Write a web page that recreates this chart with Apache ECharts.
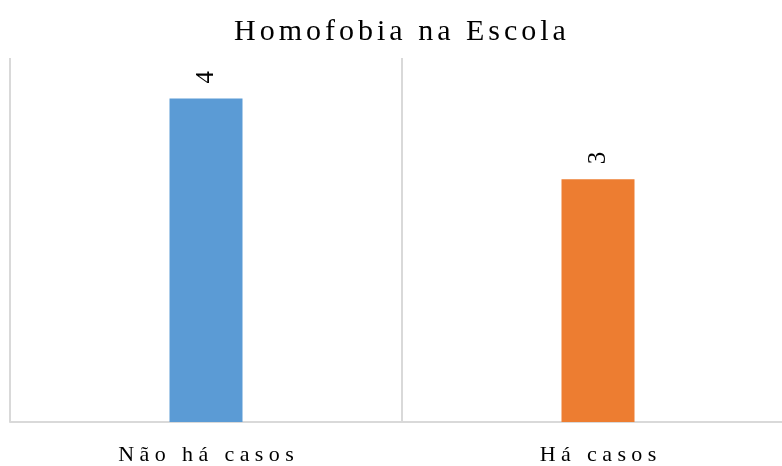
<!DOCTYPE html>
<html>
<head>
<meta charset="utf-8">
<style>
	html, body { margin: 0; padding: 0; background: #fff; }
	#chart { width: 782px; height: 466px; }
</style>
<script src="https://cdn.jsdelivr.net/npm/echarts@6/dist/echarts.min.js"></script>
</head>
<body>
<div id="chart"></div>
<script>
const title = "Homofobia na Escola";
const categories = ["Não há casos", "Há casos"];
const values = [4, 3];
const colors = ["#5B9BD5", "#ED7D31"];

// wide letter spacing like the original: every char in its own rich segment
const spaced = (text, style) =>
	[...text].map((ch, i, arr) => `{${i == arr.length - 1 ? style + "e" : style}|${ch}}`).join("");

const serif = "Liberation Serif";

const chart = echarts.init(document.getElementById("chart"), null, { renderer: "canvas" });

chart.setOption({
	animation : false,
	title     : {
		text      : spaced(title, "t"),
		left      : 229,
		top       : 12,
		textStyle : {
			fontFamily : serif,
			fontSize   : 30,
			fontWeight : "normal",
			color      : "#000",
			rich       : {
				t  : { fontFamily: serif, fontSize: 30, fontWeight: "normal", color: "#000", padding: [0, 4, 0, 0] },
				te : { fontFamily: serif, fontSize: 30, fontWeight: "normal", color: "#000" },
			},
		},
	},
	grid: {
		left            : 10,
		top             : 58,
		width           : 784,
		height          : 364,
		outerBoundsMode : "none",
	},
	xAxis: {
		type        : "category",
		data        : categories,
		boundaryGap : true,
		axisTick    : { show: false },
		axisLine    : {
			lineStyle: { color: "#d9d9d9", width: 2 },
		},
		splitLine: {
			show      : true,
			interval  : 0,
			lineStyle : { color: "#d9d9d9", width: 2 },
		},
		axisLabel: {
			interval   : 0,
			hideOverlap: false,
			margin     : 22,
			fontFamily : serif,
			fontSize   : 22,
			color      : "#000",
			formatter  : (v) => spaced(v, "c"),
			rich       : {
				c  : { fontFamily: serif, fontSize: 22, color: "#000", padding: [0, 5.4, 0, 0] },
				ce : { fontFamily: serif, fontSize: 22, color: "#000" },
			},
		},
	},
	yAxis: {
		type      : "value",
		min       : 0,
		max       : 4.5,
		show      : false,
		splitLine : { show: false },
	},
	series: [
		{
			type     : "bar",
			barWidth : 73,
			data     : values.map((v, i) => ({
				value     : v,
				itemStyle : { color: colors[i] },
			})),
			label: {
				show          : true,
				position      : "top",
				rotate        : 90,
				align         : "left",
				verticalAlign : "middle",
				distance      : 15,
				fontFamily    : serif,
				fontSize      : 25,
				fontWeight    : "normal",
				color         : "#000",
			},
		},
	],
});
</script>
</body>
</html>
